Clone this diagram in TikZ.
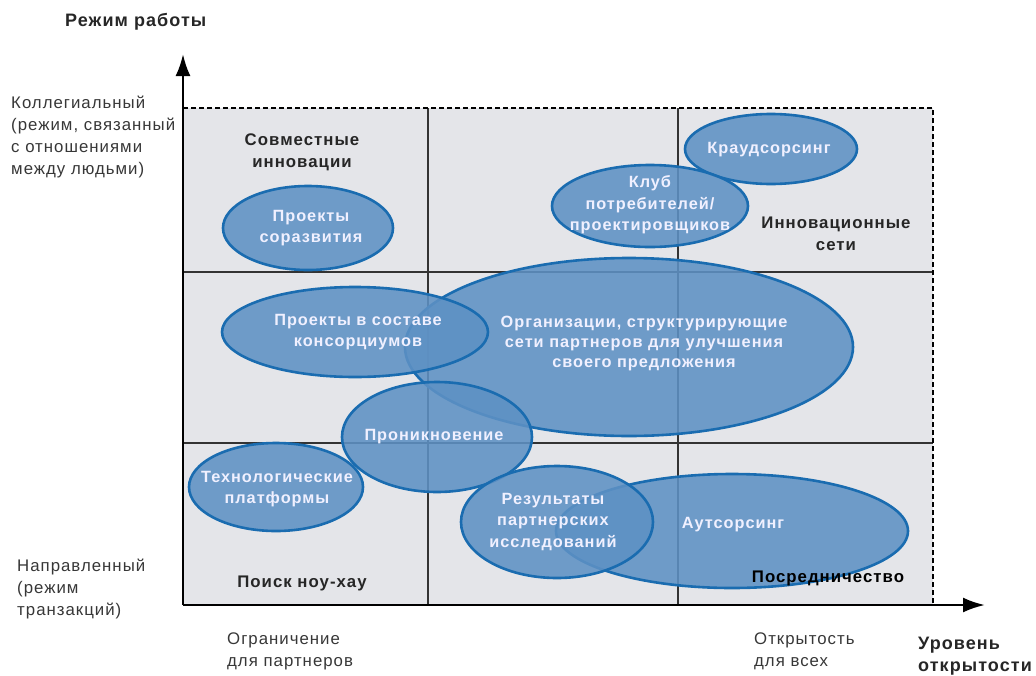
\documentclass[tikz,border=0pt]{standalone}
\usepackage{fontspec}
\newfontfamily\lsans{Liberation Sans}[LetterSpace=6]
\usetikzlibrary{shapes.geometric,arrows.meta}
\definecolor{gridbg}{RGB}{228,229,233}
\definecolor{bfill}{RGB}{94,145,196}
\definecolor{bedge}{RGB}{26,108,176}
\definecolor{txt}{RGB}{55,55,55}
\begin{document}
\begin{tikzpicture}[x=1pt,y=-1pt,
  lbl/.style={font=\lsans\fontsize{16.8}{22}\selectfont, text=txt, align=left, inner sep=0pt},
  hdr/.style={font=\lsans\bfseries\fontsize{16.8}{22}\selectfont, text=black!85, align=center, inner sep=0pt},
  big/.style={font=\lsans\bfseries\fontsize{18}{22}\selectfont},
  blob/.style={ellipse, draw=bedge, line width=2.6pt, fill=bfill, fill opacity=0.88, inner sep=0pt},
  intext/.style={font=\lsans\bfseries\fontsize{16.3}{21.5}\selectfont, text=white!94!blue, align=center, inner sep=0pt},
  axisline/.style={line width=2.6pt, -{Latex[length=22pt,width=15pt]}},
  gridline/.style={line width=1.3pt, draw=black!80},
  border/.style={line width=1.2pt, dash pattern=on 5pt off 3pt}
]
\useasboundingbox (0,0) rectangle (1036,675);
% plotting field
\coordinate (TL) at (183,108);
\coordinate (TR) at (933,108);
\coordinate (BR) at (933,605);
\coordinate (O) at (183,605);
\coordinate (V1t) at (428,108); \coordinate (V1b) at (428,605);
\coordinate (V2t) at (678,108); \coordinate (V2b) at (678,605);
\coordinate (H1l) at (183,272); \coordinate (H1r) at (933,272);
\coordinate (H2l) at (183,443); \coordinate (H2r) at (933,443);
\coordinate (Ytip) at (183,54);
\coordinate (Xtip) at (985,605);
\fill[gridbg] (TL) rectangle (BR);
\draw[gridline] (V1t) -- (V1b);
\draw[gridline] (V2t) -- (V2b);
\draw[gridline] (H1l) -- (H1r);
\draw[gridline] (H2l) -- (H2r);
\draw[border] (TL) -- (TR) -- (BR);
\draw[axisline] (O) -- (Ytip);
\draw[axisline] (O) -- (Xtip);

% ellipses
\node[blob, minimum width=172pt, minimum height=70pt] (kraud) at (771,149) {};
\node[blob, minimum width=196pt, minimum height=82pt] (klub) at (650,206) {};
\node[blob, minimum width=448pt, minimum height=178pt] (org) at (629,347) {};
\node[blob, minimum width=266pt, minimum height=90pt] (kons) at (355,332) {};
\node[blob, minimum width=190pt, minimum height=110pt] (pron) at (437,437) {};
\node[blob, minimum width=174pt, minimum height=88pt] (tech) at (276,487) {};
\node[blob, minimum width=352pt, minimum height=114pt] (outs) at (732,531) {};
\node[blob, minimum width=192pt, minimum height=112pt] (res) at (557,522) {};
\node[blob, minimum width=170pt, minimum height=84pt] (sor) at (308,228) {};

% ellipse texts
\node[intext] (kraud-t) at (769,150) {Краудсорсинг};
\node[intext] (klub-t) at (650,205) {Клуб\\потребителей/\\проектировщиков};
\node[intext, font=\lsans\bfseries\fontsize{16.3}{20}\selectfont] (org-t) at (644,343) {Организации, структурирующие\\сети партнеров для улучшения\\своего предложения};
\node[intext, font=\lsans\bfseries\fontsize{16.3}{20.5}\selectfont] (kons-t) at (358,332) {Проекты в составе\\консорциумов};
\node[intext] (pron-t) at (434,437) {Проникновение};
\node[intext] (tech-t) at (277,489) {Технологические\\платформы};
\node[intext] (outs-t) at (733,525) {Аутсорсинг};
\node[intext] (res-t) at (553,522) {Результаты\\партнерских\\исследований};
\node[intext, font=\lsans\bfseries\fontsize{16.3}{20.5}\selectfont] (sor-t) at (311,228) {Проекты\\соразвития};

% quadrant headings
\node[hdr] (q1) at (302,152) {Совместные\\инновации};
\node[hdr] (q2) at (836,234) {Инновационные\\сети};
\node[hdr] (q3) at (302,583) {Поиск ноу-хау};
\node[hdr, text=black] (q4) at (828,578) {Посредничество};

% axis labels
\node[hdr, big, anchor=west] (ytitle) at (65,22) {Режим работы};
\node[lbl, anchor=west] (ytop) at (11,137) {Коллегиальный\\(режим, связанный\\с отношениями\\между людьми)};
\node[lbl, anchor=west] (ybot) at (17,589) {Направленный\\(режим\\транзакций)};
\node[lbl, anchor=west] (xl) at (227,651) {Ограничение\\для партнеров};
\node[lbl, anchor=west] (xr) at (754,651) {Открытость\\для всех};
\node[hdr, big, anchor=west, align=left] (xtitle) at (918,656) {Уровень\\открытости};
\end{tikzpicture}
\end{document}
